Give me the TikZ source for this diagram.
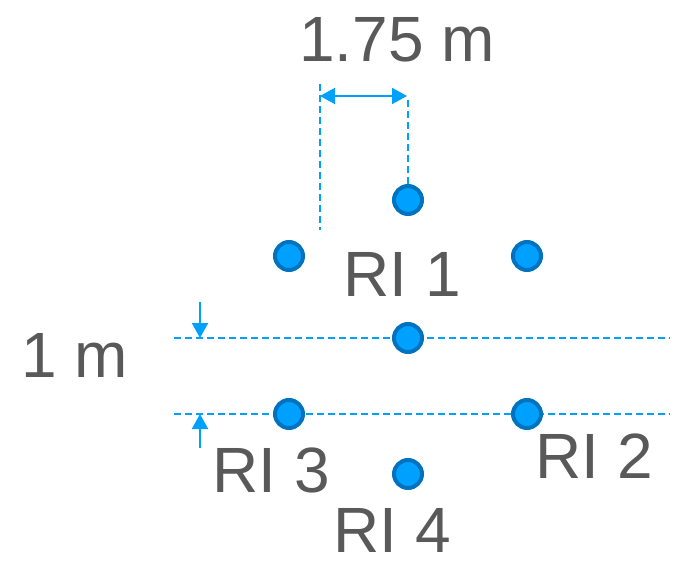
\documentclass[tikz,border=0pt]{standalone}
\usepackage{fontspec}
\setmainfont{Liberation Sans}
\usetikzlibrary{arrows.meta}
\definecolor{dotfill}{RGB}{0,160,255}
\definecolor{dotedge}{RGB}{0,114,190}
\definecolor{lineblue}{RGB}{0,160,255}
\definecolor{txt}{RGB}{89,89,89}
\begin{document}
\begin{tikzpicture}[x=1pt,y=-1pt,
  dot/.style={circle,draw=dotedge,fill=dotfill,line width=4pt,minimum size=28pt,inner sep=0pt},
  dimline/.style={draw=lineblue,line width=2pt,dash pattern=on 7pt off 4pt},
  dimarrow/.style={draw=lineblue,line width=2pt,-{Triangle[length=15pt,width=16pt]}},
  lbl/.style={text=txt,inner sep=0pt,anchor=base,font=\fontsize{64}{64}\selectfont}]
\useasboundingbox (0,0) rectangle (693,577);
% dimension lines (behind dots)
\coordinate (h1a) at (174,338);
\coordinate (h1b) at (670,338);
\coordinate (h2a) at (174,414);
\coordinate (h2b) at (670,414);
\draw[dimline] (h1a) -- (h1b);
\draw[dimline] (h2a) -- (h2b);
% dots
\node[dot] (d1) at (408,200) {};
\node[dot] (d2) at (289,256) {};
\node[dot] (d3) at (527,256) {};
\node[dot] (d4) at (408,338) {};
\node[dot] (d5) at (289,414) {};
\node[dot] (d6) at (527,414) {};
\node[dot] (d7) at (408,474) {};
% horizontal dimension 1.75 m
\coordinate (v1a) at (320,84);
\coordinate (v1b) at (320,230);
\coordinate (v2a) at (408,100);
\draw[dimline] (v1a) -- (v1b);
\draw[dimline] (v2a) -- (d1.north);
\coordinate (ha) at (320,96);
\coordinate (hb) at (407,96);
\draw[draw=lineblue,line width=2pt,{Triangle[length=15pt,width=16pt]}-{Triangle[length=15pt,width=16pt]}] (ha) -- (hb);
% vertical dimension 1 m
\coordinate (aa) at (200,302);
\coordinate (ab) at (200,338);
\coordinate (ba) at (200,448);
\coordinate (bb) at (200,414);
\draw[dimarrow] (aa) -- (ab);
\draw[dimarrow] (ba) -- (bb);
% labels
\node[lbl] (t175) at (397,61.7) {1.75 m};
\node[lbl] (t1m) at (75,377) {1 m};
\node[lbl] (ri1) at (402,296.7) {RI 1};
\node[lbl] (ri3) at (271,492) {RI 3};
\node[lbl] (ri2) at (594,478) {RI 2};
\node[lbl] (ri4) at (392,552.7) {RI 4};
\end{tikzpicture}
\end{document}
